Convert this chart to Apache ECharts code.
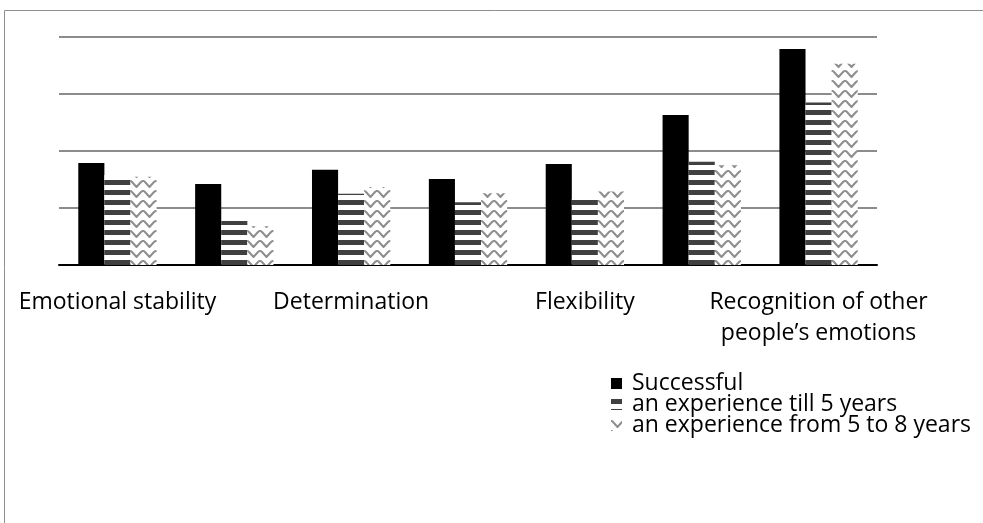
<!DOCTYPE html>
<html>
<head>
<meta charset="utf-8">
<script src="https://cdn.jsdelivr.net/npm/echarts@6/dist/echarts.min.js"></script>
<style>
html,body{margin:0;padding:0;background:#fff;}
#chart{width:983px;height:523px;}
</style>
</head>
<body>
<div id="chart"></div>
<script>
var categories = ['Emotional stability', 'Self-control', 'Determination', 'Self-motivation', 'Flexibility', 'Empathy', 'Recognition of other\npeople\u2019s emotions'];
var seriesNames = ['Successful', 'an experience till 5 years', 'an experience from 5 to 8 years'];
var successful = [1.79, 1.42, 1.67, 1.51, 1.77, 2.63, 3.79];
var till5 = [1.58, 0.77, 1.25, 1.10, 1.16, 1.81, 2.85];
var from5to8 = [1.55, 0.68, 1.37, 1.26, 1.29, 1.75, 3.53];

function stripePattern() {
  var c = document.createElement('canvas');
  c.width = 10; c.height = 10;
  var g = c.getContext('2d');
  g.fillStyle = '#ffffff'; g.fillRect(0, 0, 10, 10);
  g.fillStyle = '#404040'; g.fillRect(0, 0, 10, 5);
  return c;
}
function wavePattern() {
  var c = document.createElement('canvas');
  c.width = 13; c.height = 10;
  var g = c.getContext('2d');
  g.fillStyle = '#ffffff'; g.fillRect(0, 0, 13, 10);
  g.strokeStyle = '#8e8e8e'; g.lineWidth = 2; g.lineJoin = 'round';
  g.beginPath();
  g.moveTo(-2, 1.2);
  g.quadraticCurveTo(0, 0, 2, 2);
  g.lineTo(6.5, 7);
  g.lineTo(11, 2);
  g.quadraticCurveTo(13, 0, 15, 2);
  g.stroke();
  return c;
}

var chart = echarts.init(document.getElementById('chart'));
var fontFam = '"Open Sans", Lato, sans-serif';
chart.setOption({
  animation: false,
  backgroundColor: '#ffffff',
  graphic: [{
    type: 'rect',
    shape: { x: 4.5, y: 10.5, width: 1100, height: 700 },
    style: { fill: 'none', stroke: '#8e8e8e', lineWidth: 1 },
    silent: true
  }],
  grid: { left: 59, right: 106, top: 37, bottom: 258 },
  legend: {
    orient: 'vertical',
    left: 606,
    top: 367,
    itemWidth: 11,
    itemHeight: 11,
    itemGap: -2,
    icon: 'rect',
    textStyle: { fontFamily: fontFam, fontSize: 23, lineHeight: 21, color: '#000', padding: [0, 0, 0, 5] },
    data: seriesNames
  },
  xAxis: {
    type: 'category',
    data: categories,
    axisLine: { lineStyle: { color: '#000', width: 2 } },
    axisTick: { show: false },
    axisLabel: {
      interval: 1,
      margin: 22,
      fontFamily: fontFam,
      fontSize: 23,
      lineHeight: 31,
      color: '#000'
    }
  },
  yAxis: {
    type: 'value',
    min: 0,
    max: 4,
    interval: 1,
    axisLabel: { show: false },
    axisLine: { show: false },
    axisTick: { show: false },
    splitLine: { lineStyle: { color: '#8c8c8c', width: 2 } }
  },
  series: [
    { name: seriesNames[0], type: 'bar', data: successful, barGap: '0%', barCategoryGap: '33%',
      itemStyle: { color: '#000000' } },
    { name: seriesNames[1], type: 'bar', data: till5, barGap: '0%', barCategoryGap: '33%',
      itemStyle: { color: { image: stripePattern(), repeat: 'repeat' } } },
    { name: seriesNames[2], type: 'bar', data: from5to8, barGap: '0%', barCategoryGap: '33%',
      itemStyle: { color: { image: wavePattern(), repeat: 'repeat' } } }
  ]
});
</script>
</body>
</html>
